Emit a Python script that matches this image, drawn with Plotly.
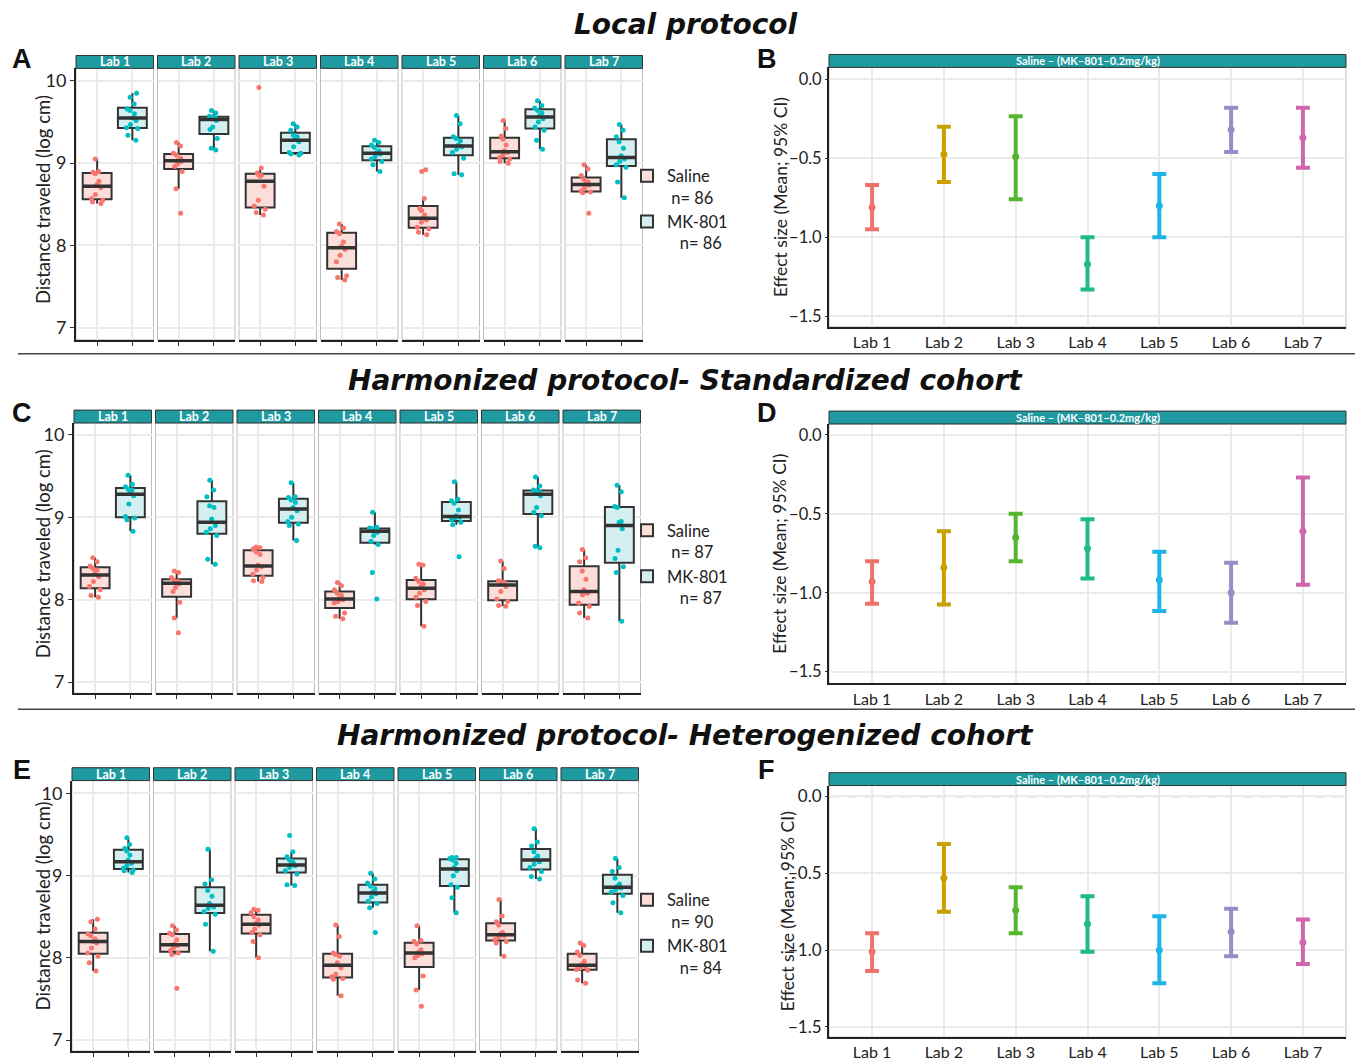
import numpy as np
import plotly.graph_objects as go

labs = ["Lab 1", "Lab 2", "Lab 3", "Lab 4", "Lab 5", "Lab 6", "Lab 7"]
groups = ["Saline", "MK-801"]

# ---------- Local protocol (A) ----------
local_saline = [
    [8.51, 8.53, 8.55, 8.57, 8.62, 8.70, 8.74, 8.78, 8.87, 8.89, 8.90, 9.05],
    [8.39, 8.69, 8.90, 8.96, 8.99, 9.02, 9.04, 9.06, 9.10, 9.12, 9.21, 9.25],
    [8.37, 8.40, 8.44, 8.48, 8.55, 8.72, 8.84, 8.85, 8.86, 8.88, 8.94, 9.92],
    [7.58, 7.61, 7.63, 7.80, 7.88, 7.95, 7.99, 8.04, 8.14, 8.17, 8.21, 8.26],
    [8.13, 8.16, 8.20, 8.22, 8.28, 8.31, 8.33, 8.37, 8.42, 8.45, 8.57, 8.90, 8.92],
    [9.00, 9.02, 9.05, 9.07, 9.10, 9.13, 9.15, 9.22, 9.29, 9.33, 9.42, 9.52],
    [8.39, 8.64, 8.65, 8.66, 8.70, 8.73, 8.75, 8.77, 8.80, 8.85, 8.93, 8.98],
]
local_mk = [
    [9.28, 9.34, 9.42, 9.43, 9.47, 9.52, 9.55, 9.60, 9.64, 9.66, 9.72, 9.80, 9.85],
    [9.16, 9.18, 9.30, 9.41, 9.44, 9.52, 9.54, 9.55, 9.56, 9.57, 9.61, 9.64],
    [9.10, 9.11, 9.12, 9.13, 9.20, 9.26, 9.30, 9.32, 9.34, 9.40, 9.44, 9.48],
    [8.90, 8.98, 9.02, 9.05, 9.08, 9.11, 9.13, 9.15, 9.19, 9.22, 9.25, 9.28],
    [8.86, 8.87, 9.06, 9.13, 9.17, 9.20, 9.22, 9.27, 9.30, 9.32, 9.48, 9.58],
    [9.17, 9.28, 9.40, 9.44, 9.50, 9.54, 9.58, 9.61, 9.64, 9.67, 9.70, 9.76],
    [8.58, 8.77, 8.95, 8.98, 9.02, 9.05, 9.09, 9.18, 9.26, 9.32, 9.40, 9.47],
]
local_n = ["86", "86"]

# ---------- Harmonized, standardized cohort (C) ----------
std_saline = [
    [8.03, 8.05, 8.12, 8.16, 8.22, 8.28, 8.32, 8.36, 8.38, 8.41, 8.46, 8.51],
    [7.60, 7.78, 7.97, 8.10, 8.15, 8.19, 8.21, 8.22, 8.23, 8.27, 8.33, 8.35],
    [8.22, 8.23, 8.27, 8.31, 8.36, 8.40, 8.42, 8.55, 8.58, 8.62, 8.63, 8.64],
    [7.77, 7.80, 7.84, 7.96, 7.98, 8.00, 8.02, 8.05, 8.08, 8.12, 8.17, 8.21],
    [7.68, 7.93, 7.98, 8.03, 8.08, 8.12, 8.16, 8.19, 8.22, 8.26, 8.42, 8.43],
    [7.92, 7.93, 7.98, 8.01, 8.10, 8.16, 8.20, 8.21, 8.22, 8.23, 8.38, 8.47],
    [7.78, 7.84, 7.92, 7.96, 8.06, 8.08, 8.12, 8.25, 8.35, 8.46, 8.51, 8.61],
]
std_mk = [
    [8.83, 8.97, 8.99, 9.01, 9.16, 9.26, 9.30, 9.33, 9.34, 9.37, 9.40, 9.51],
    [8.43, 8.49, 8.78, 8.82, 8.86, 8.90, 8.98, 9.12, 9.14, 9.25, 9.33, 9.45],
    [8.72, 8.90, 8.92, 8.95, 9.00, 9.08, 9.12, 9.18, 9.21, 9.24, 9.25, 9.42],
    [8.01, 8.33, 8.67, 8.71, 8.78, 8.82, 8.84, 8.85, 8.86, 8.87, 8.88, 9.06],
    [8.52, 8.91, 8.94, 8.97, 8.99, 9.00, 9.02, 9.09, 9.17, 9.20, 9.22, 9.43],
    [8.63, 8.65, 9.02, 9.06, 9.12, 9.26, 9.30, 9.31, 9.32, 9.33, 9.38, 9.49],
    [7.74, 8.33, 8.40, 8.50, 8.60, 8.86, 8.94, 8.95, 9.12, 9.13, 9.31, 9.39],
]
std_n = ["87", "87"]

# ---------- Harmonized, heterogenized cohort (E) ----------
het_saline = [
    [7.84, 7.94, 8.02, 8.06, 8.12, 8.18, 8.20, 8.23, 8.27, 8.29, 8.35, 8.44, 8.47],
    [7.63, 8.04, 8.06, 8.09, 8.12, 8.15, 8.17, 8.22, 8.28, 8.30, 8.34, 8.39],
    [8.00, 8.20, 8.28, 8.31, 8.35, 8.40, 8.42, 8.46, 8.50, 8.55, 8.58, 8.59],
    [7.54, 7.74, 7.75, 7.77, 7.80, 7.88, 7.94, 8.02, 8.04, 8.06, 8.26, 8.40],
    [7.41, 7.61, 7.78, 8.00, 8.03, 8.05, 8.07, 8.10, 8.17, 8.20, 8.21, 8.39],
    [8.02, 8.18, 8.20, 8.22, 8.25, 8.27, 8.29, 8.31, 8.40, 8.44, 8.51, 8.71],
    [7.69, 7.73, 7.85, 7.86, 7.88, 7.90, 7.92, 7.96, 8.03, 8.07, 8.15, 8.18],
]
het_mk = [
    [9.04, 9.06, 9.07, 9.09, 9.12, 9.15, 9.19, 9.25, 9.30, 9.33, 9.38, 9.46],
    [8.08, 8.41, 8.53, 8.56, 8.60, 8.62, 8.66, 8.75, 8.82, 8.90, 8.95, 9.32],
    [8.88, 8.89, 9.02, 9.06, 9.10, 9.12, 9.14, 9.16, 9.19, 9.23, 9.29, 9.49],
    [8.31, 8.61, 8.66, 8.69, 8.74, 8.78, 8.80, 8.84, 8.87, 8.91, 8.96, 9.03],
    [8.55, 8.73, 8.86, 8.89, 9.00, 9.06, 9.10, 9.15, 9.19, 9.21, 9.22, 9.22],
    [8.96, 8.99, 9.05, 9.10, 9.14, 9.17, 9.21, 9.24, 9.29, 9.36, 9.41, 9.57],
    [8.55, 8.67, 8.76, 8.80, 8.83, 8.85, 8.87, 8.90, 8.97, 9.05, 9.10, 9.21],
]
het_n = ["90", "84"]

# ---------- Effect sizes (B, D, F) ----------
local_mean = [-0.81, -0.475, -0.49, -1.17, -0.80, -0.32, -0.37]
local_lo = [-0.95, -0.65, -0.76, -1.33, -1.00, -0.46, -0.56]
local_hi = [-0.67, -0.30, -0.235, -1.00, -0.60, -0.18, -0.18]
std_mean = [-0.93, -0.84, -0.65, -0.72, -0.92, -1.00, -0.61]
std_lo = [-1.07, -1.075, -0.80, -0.91, -1.115, -1.19, -0.95]
std_hi = [-0.80, -0.61, -0.50, -0.535, -0.74, -0.81, -0.27]
het_mean = [-1.01, -0.53, -0.74, -0.83, -1.00, -0.88, -0.95]
het_lo = [-1.135, -0.75, -0.89, -1.01, -1.215, -1.04, -1.09]
het_hi = [-0.89, -0.31, -0.59, -0.65, -0.78, -0.73, -0.80]

box_ticks = [7, 8, 9, 10]
effect_ticks = [0.0, -0.5, -1.0, -1.5]
strip_effect = "Saline \u2013 (MK\u2013801\u20130.2mg/kg)"
titles = ["Local protocol", "Harmonized protocol- Standardized cohort",
          "Harmonized protocol- Heterogenized cohort"]

# ---------- styling ----------
W, H = 1357, 1061
def px(x): return x / W
def py(y): return 1 - y / H

SAL_PT, MK_PT = "#F8766D", "#00BFC4"
SAL_FILL, MK_FILL = "#FBDDD9", "#D5EFF1"
LAB_COLORS = ["#F0736B", "#C9A000", "#55B52E", "#1FB98F", "#1DB5E8", "#9B8BC9", "#D066AE"]
STRIP = "#1E9AA0"
GRID = "#EBEBEB"
FONT = "Lato"
LEG_PAD = ["\u00a0", "\u00a0\u00a0\u00a0"]

rows = [
    dict(sal=local_saline, mk=local_mk, n=local_n, eff=(local_mean, local_lo, local_hi),
         ytop=69, ybot=343, left0=76, yr=[6.852, 10.153],
         ex=(829, 1346), ey=(68, 330), eyr=[-1.567, 0.075], efont=16.5,
         letters=("A", "B"), lety=60, title_y=25, leg_y=160, ext_x=780),
    dict(sal=std_saline, mk=std_mk, n=std_n, eff=(std_mean, std_lo, std_hi),
         ytop=427, ybot=700, left0=74, yr=[6.864, 10.144],
         ex=(829, 1346), ey=(428, 690), eyr=[-1.575, 0.069], efont=16.5,
         letters=("C", "D"), lety=417, title_y=384, leg_y=518, ext_x=780),
    dict(sal=het_saline, mk=het_mk, n=het_n, eff=(het_mean, het_lo, het_hi),
         ytop=788, ybot=1061, left0=72, yr=[6.867, 10.157],
         ex=(829, 1346), ey=(793, 1047), eyr=[-1.566, 0.071], efont=17,
         letters=("E", "F"), lety=777, title_y=742, leg_y=891, ext_x=787),
]

fig = go.Figure()
layout = dict(width=W, height=H, margin=dict(l=0, r=0, t=0, b=0),
              paper_bgcolor="white", plot_bgcolor="white", boxmode="overlay",
              showlegend=True)
shapes, annotations = [], []

FACET_W, FACET_STEP, STRIP_H = 77.5, 81.5, 13

for r, row in enumerate(rows):
    legname = "legend" if r == 0 else f"legend{r+1}"
    for i in range(7):
        idx = r * 8 + i + 1
        xa = "x" if idx == 1 else f"x{idx}"
        ya = "y" if idx == 1 else f"y{idx}"
        xl = row["left0"] + i * FACET_STEP
        xr = xl + FACET_W
        layout["xaxis" if idx == 1 else f"xaxis{idx}"] = dict(
            domain=[px(xl), px(xr)], anchor=ya, type="category",
            categoryorder="array", categoryarray=groups, range=[-0.6, 1.6],
            showgrid=True, gridcolor=GRID, gridwidth=1.5, showticklabels=False,
            ticks="outside", ticklen=4, tickcolor="#333", showline=True,
            linecolor="#222", linewidth=2, zeroline=False, fixedrange=True)
        layout["yaxis" if idx == 1 else f"yaxis{idx}"] = dict(
            domain=[py(row["ybot"]), py(row["ytop"])], anchor=xa,
            range=row["yr"], tickvals=box_ticks, showgrid=True, gridcolor=GRID,
            gridwidth=1.5, zeroline=False, showticklabels=(i == 0),
            ticks="outside" if i == 0 else "", ticklen=4, tickcolor="#333",
            showline=(i == 0), linecolor="#222", linewidth=2,
            tickfont=dict(family=FONT, size=18, color="#222"), fixedrange=True)
        shapes.append(dict(type="rect", xref=f"{xa} domain", yref=f"{ya} domain",
                           x0=0, x1=1, y0=0, y1=1, line=dict(color="#BDBDBD", width=1),
                           layer="below"))
        hfrac = STRIP_H / (row["ybot"] - row["ytop"])
        shapes.append(dict(type="rect", xref=f"{xa} domain", yref=f"{ya} domain",
                           x0=0, x1=1, y0=1, y1=1 + hfrac, fillcolor=STRIP,
                           line=dict(color="#333", width=1)))
        annotations.append(dict(xref=f"{xa} domain", yref=f"{ya} domain", x=0.5,
                                y=1 + hfrac / 2, text=f"<b>{labs[i]}</b>", showarrow=False,
                                font=dict(family=FONT, size=12.5, color="white"),
                                xanchor="center", yanchor="middle"))
        for g, (vals, pc, fc) in enumerate([(row["sal"][i], SAL_PT, SAL_FILL),
                                            (row["mk"][i], MK_PT, MK_FILL)]):
            name = groups[g] + "<br>" + LEG_PAD[g] + "n=\u00a0" + row["n"][g]
            fig.add_trace(go.Box(
                y=vals, x=[groups[g]] * len(vals), name=name, xaxis=xa, yaxis=ya,
                boxpoints="all", jitter=0.5, pointpos=0, whiskerwidth=0,
                fillcolor=fc, line=dict(color="#333333", width=2),
                marker=dict(color=pc, size=5), width=0.82,
                legend=legname, showlegend=(i == 0), legendgroup=f"{r}{g}",
                hoverinfo="y"))
            # thicker median bar (ggplot style), from the same data
            med = float(np.median(vals))
            fig.add_trace(go.Box(
                x=[groups[g]], q1=[med], median=[med], q3=[med], lowerfence=[med],
                upperfence=[med], xaxis=xa, yaxis=ya, width=0.82, whiskerwidth=0,
                fillcolor="rgba(0,0,0,0)", line=dict(color="#333333", width=3.5),
                boxpoints=False, showlegend=False, hoverinfo="skip"))
    layout[legname] = dict(x=px(627), y=py(row["leg_y"]), xanchor="left", yanchor="top",
                           font=dict(family=FONT, size=16.5, color="#222"),
                           bgcolor="rgba(0,0,0,0)", tracegroupgap=0, valign="top")

    # effect panel
    idx = r * 8 + 8
    xa, ya = f"x{idx}", f"y{idx}"
    x0, x1 = row["ex"]
    y0, y1 = row["ey"]
    layout[f"xaxis{idx}"] = dict(
        domain=[px(x0), px(x1)], anchor=ya, type="category", categoryorder="array",
        categoryarray=labs, range=[-0.6, 6.6], showgrid=True, gridcolor=GRID,
        gridwidth=1.5, ticks="", showline=True, linecolor="#222", linewidth=2,
        tickfont=dict(family=FONT, size=16, color="#222"), zeroline=False, fixedrange=True)
    layout[f"yaxis{idx}"] = dict(
        domain=[py(y1), py(y0)], anchor=xa, range=row["eyr"], tickvals=effect_ticks,
        tickformat=".1f", showgrid=True, gridcolor=GRID, gridwidth=1.5,
        ticks="outside", ticklen=2, tickcolor="#333", showline=True, linecolor="#222",
        linewidth=2, zeroline=False,
        tickfont=dict(family=FONT, size=row["efont"], color="#222"), fixedrange=True)
    shapes.append(dict(type="rect", xref=f"{xa} domain", yref=f"{ya} domain",
                       x0=0, x1=1, y0=0, y1=1, line=dict(color="#BDBDBD", width=1),
                       layer="below"))
    shapes.append(dict(type="line", xref=f"{xa} domain", yref=ya, x0=0, x1=1, y0=0, y1=0,
                       line=dict(color="#AFAFAF", width=1.5, dash="dash"), layer="below"))
    hfrac = 13 / (y1 - y0)
    shapes.append(dict(type="rect", xref=f"{xa} domain", yref=f"{ya} domain",
                       x0=0, x1=1, y0=1, y1=1 + hfrac, fillcolor=STRIP,
                       line=dict(color="#333", width=1)))
    annotations.append(dict(xref=f"{xa} domain", yref=f"{ya} domain", x=0.5,
                            y=1 + hfrac / 2, text=f"<b>{strip_effect}</b>", showarrow=False,
                            font=dict(family=FONT, size=11, color="white"),
                            xanchor="center", yanchor="middle"))
    mean, lo, hi = row["eff"]
    for k in range(7):
        fig.add_trace(go.Scatter(
            x=[labs[k]], y=[mean[k]], mode="markers", xaxis=xa, yaxis=ya,
            marker=dict(color=LAB_COLORS[k], size=7),
            error_y=dict(type="data", symmetric=False, array=[hi[k] - mean[k]],
                         arrayminus=[mean[k] - lo[k]], color=LAB_COLORS[k],
                         thickness=4, width=7),
            showlegend=False, hoverinfo="y"))

    annotations.append(dict(xref="paper", yref="paper", x=px(685), y=py(row["title_y"]),
                            text=f"<b><i>{titles[r]}</i></b>", showarrow=False,
                            font=dict(family="DejaVu Sans", size=28, color="#111"),
                            xanchor="center", yanchor="middle"))
    annotations.append(dict(xref="paper", yref="paper", x=px(22), y=py(row["lety"]),
                            text=f"<b>{row['letters'][0]}</b>", showarrow=False,
                            font=dict(family="Liberation Sans", size=27, color="#111"),
                            xanchor="center", yanchor="middle"))
    annotations.append(dict(xref="paper", yref="paper", x=px(767), y=py(row["lety"]),
                            text=f"<b>{row['letters'][1]}</b>", showarrow=False,
                            font=dict(family="Liberation Sans", size=27, color="#111"),
                            xanchor="center", yanchor="middle"))
    annotations.append(dict(xref="paper", yref="paper", x=px(43),
                            y=py((row["ytop"] + min(row["ybot"], 1050)) / 2 - 4),
                            text="Distance traveled (log cm)", showarrow=False, textangle=-90,
                            font=dict(family=FONT, size=18.5, color="#222"),
                            xanchor="center", yanchor="middle"))
    annotations.append(dict(xref="paper", yref="paper", x=px(row["ext_x"]),
                            y=py((y0 + y1) / 2),
                            text="Effect size (Mean; 95% CI)", showarrow=False, textangle=-90,
                            font=dict(family=FONT, size=17.5, color="#222"),
                            xanchor="center", yanchor="middle"))

for yline in (357, 716):
    shapes.append(dict(type="line", xref="paper", yref="paper", x0=px(18), x1=px(1355),
                       y0=py(yline), y1=py(yline), line=dict(color="#444", width=1.5)))

layout["shapes"] = shapes
layout["annotations"] = annotations
fig.update_layout(**layout)
fig.write_html("out.html", config={"displayModeBar": False},
               post_script="document.body.style.margin='0';")
